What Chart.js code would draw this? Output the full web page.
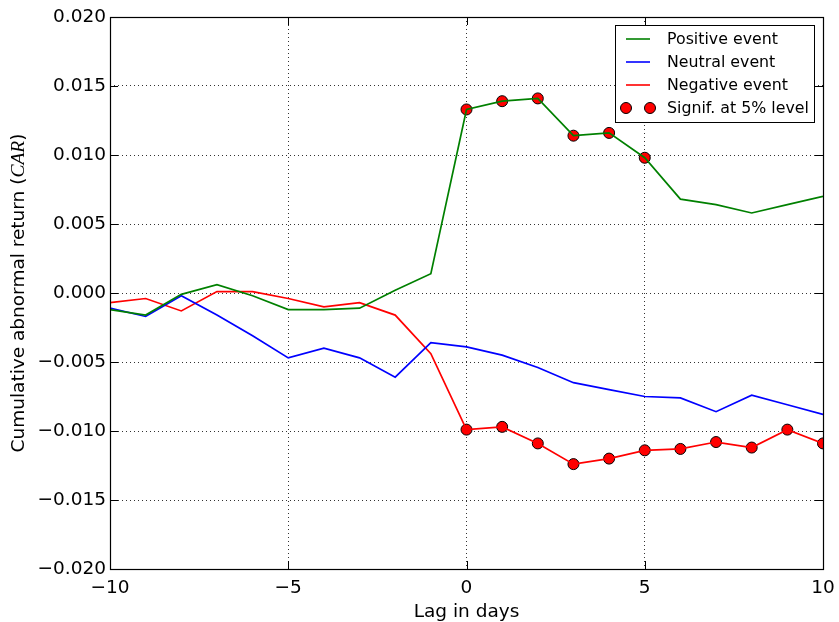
<!DOCTYPE html>
<html>
<head>
<meta charset="utf-8">
<title>Cumulative abnormal return</title>
<script src="https://cdn.jsdelivr.net/npm/chart.js@4.4.0/dist/chart.umd.min.js"></script>
<style>
  html, body { margin: 0; padding: 0; background: #fff; }
  #wrap { width: 839px; height: 622px; }
</style>
</head>
<body>
<div id="wrap"><canvas id="carChart" width="839" height="622"></canvas></div>
<script>
// Data
const lags = [-10, -9, -8, -7, -6, -5, -4, -3, -2, -1, 0, 1, 2, 3, 4, 5, 6, 7, 8, 9, 10];
const positive = [-0.0012, -0.0016, -0.0001, 0.0006, -0.0002, -0.0012, -0.0012, -0.0011, 0.0002, 0.0014,
  0.0133, 0.0139, 0.0141, 0.0114, 0.0116, 0.0098, 0.0068, 0.0064, 0.0058, 0.0064, 0.0070];
const neutral = [-0.0011, -0.0017, -0.0002, -0.0016, -0.0031, -0.0047, -0.0040, -0.0047, -0.0061, -0.0036,
  -0.0039, -0.0045, -0.0054, -0.0065, -0.0070, -0.0075, -0.0076, -0.0086, -0.0074, -0.0081, -0.0088];
const negative = [-0.0007, -0.0004, -0.0013, 0.0001, 0.0001, -0.0004, -0.0010, -0.0007, -0.0016, -0.0044,
  -0.0099, -0.0097, -0.0109, -0.0124, -0.0120, -0.0114, -0.0113, -0.0108, -0.0112, -0.0099, -0.0109];
const sigPositiveLags = [0, 1, 2, 3, 4, 5];
const sigNegativeLags = [0, 1, 2, 3, 4, 5, 6, 7, 8, 9, 10];
const xTicks = [-10, -5, 0, 5, 10];
const yTicks = [-0.02, -0.015, -0.01, -0.005, 0, 0.005, 0.01, 0.015, 0.02];

const FONT = 'DejaVu Sans';
const minus = s => s.replace('-', '\u2212');

function points(values) {
  return lags.map((l, i) => ({ x: l, y: values[i] }));
}
function sigPoints(lagList, values) {
  return lagList.map(l => ({ x: l, y: values[lags.indexOf(l)] }));
}

const legendItems = [
  { label: 'Positive event', color: '#008000' },
  { label: 'Neutral event', color: '#0000ff' },
  { label: 'Negative event', color: '#ff0000' },
  { label: 'Signif. at 5% level', marker: true }
];

// frame, inward ticks, axis titles and the boxed legend
const decorations = {
  id: 'decorations',
  afterDraw(chart) {
    const ctx = chart.ctx;
    const a = chart.chartArea;
    const xs = chart.scales.x, ys = chart.scales.y;
    ctx.save();
    ctx.strokeStyle = '#000';
    ctx.lineWidth = 1.2;
    ctx.strokeRect(a.left + 0.5, a.top + 0.5, a.right - a.left, a.bottom - a.top);

    // inward tick marks on all sides
    ctx.lineWidth = 1;
    ctx.beginPath();
    xTicks.forEach(v => {
      const px = Math.round(xs.getPixelForValue(v)) + 0.5;
      ctx.moveTo(px, a.bottom); ctx.lineTo(px, a.bottom - 8);
      ctx.moveTo(px, a.top); ctx.lineTo(px, a.top + 8);
    });
    yTicks.forEach(v => {
      const py = Math.round(ys.getPixelForValue(v)) + 0.5;
      ctx.moveTo(a.left, py); ctx.lineTo(a.left + 8, py);
      ctx.moveTo(a.right, py); ctx.lineTo(a.right - 8, py);
    });
    ctx.stroke();

    // x title
    ctx.fillStyle = '#000';
    ctx.font = '18.5px "' + FONT + '"';
    ctx.textAlign = 'center';
    ctx.textBaseline = 'alphabetic';
    ctx.fillText('Lag in days', (a.left + a.right) / 2, 617);

    // y title with italic CAR
    const p1 = 'Cumulative abnormal return (', p2 = 'CAR', p3 = ')';
    const sansFont = '18.5px "' + FONT + '"';
    const itFont = 'italic 19.5px "Liberation Serif"';
    ctx.font = sansFont; const w1 = ctx.measureText(p1).width; const w3 = ctx.measureText(p3).width;
    ctx.font = itFont; const w2 = ctx.measureText(p2).width;
    const total = w1 + w2 + w3;
    ctx.translate(24, (a.top + a.bottom) / 2);
    ctx.rotate(-Math.PI / 2);
    ctx.textAlign = 'left';
    let x0 = -total / 2;
    ctx.font = sansFont; ctx.fillText(p1, x0, 0); x0 += w1;
    ctx.font = itFont; ctx.fillText(p2, x0, 0); x0 += w2;
    ctx.font = sansFont; ctx.fillText(p3, x0, 0);
    ctx.setTransform(1, 0, 0, 1, 0, 0);

    // legend box
    const bx = 615.5, by = 25.5, bw = 199, bh = 97;
    ctx.fillStyle = '#fff';
    ctx.fillRect(bx, by, bw, bh);
    ctx.strokeStyle = '#000';
    ctx.lineWidth = 1;
    ctx.strokeRect(bx, by, bw, bh);
    ctx.font = '15.8px "' + FONT + '"';
    ctx.textBaseline = 'middle';
    legendItems.forEach((it, i) => {
      const cy = 39 + i * 23;
      if (it.marker) {
        [626, 650].forEach(mx => {
          ctx.beginPath();
          ctx.arc(mx, cy, 5.5, 0, Math.PI * 2);
          ctx.fillStyle = '#ff0000';
          ctx.fill();
          ctx.strokeStyle = '#000';
          ctx.lineWidth = 1;
          ctx.stroke();
        });
      } else {
        ctx.beginPath();
        ctx.moveTo(626, cy); ctx.lineTo(650, cy);
        ctx.strokeStyle = it.color;
        ctx.lineWidth = 1.6;
        ctx.stroke();
      }
      ctx.fillStyle = '#000';
      ctx.fillText(it.label, 667, cy + 1);
    });
    ctx.restore();
  }
};

const lineStyle = color => ({
  borderColor: color,
  backgroundColor: color,
  borderWidth: 1.7,
  pointRadius: 0,
  tension: 0,
  fill: false
});

const config = {
  type: 'line',
  data: {
    datasets: [
      Object.assign({ label: 'Positive event', data: points(positive) }, lineStyle('#008000')),
      Object.assign({ label: 'Neutral event', data: points(neutral) }, lineStyle('#0000ff')),
      Object.assign({ label: 'Negative event', data: points(negative) }, lineStyle('#ff0000')),
      {
        label: 'Signif. at 5% level',
        data: sigPoints(sigPositiveLags, positive).concat(sigPoints(sigNegativeLags, negative)),
        showLine: false,
        pointRadius: 5.5,
        pointBackgroundColor: '#ff0000',
        pointBorderColor: '#000',
        pointBorderWidth: 1
      }
    ]
  },
  options: {
    responsive: false,
    animation: false,
    layout: { padding: { left: 0, right: 16, top: 17, bottom: 0 } },
    plugins: { legend: { display: false }, tooltip: { enabled: false } },
    scales: {
      x: {
        type: 'linear',
        min: -10,
        max: 10,
        afterBuildTicks: s => { s.ticks = xTicks.map(v => ({ value: v })); },
        afterFit: s => { s.height = 53; s.paddingLeft = 0; s.paddingRight = 0; },
        ticks: {
          color: '#000',
          padding: 8,
          font: { family: FONT, size: 18.5 },
          callback: v => minus(String(v))
        },
        grid: { color: 'rgba(0,0,0,0.8)', lineWidth: 1, drawTicks: false },
        border: { display: false, dash: [1, 3] }
      },
      y: {
        min: -0.02,
        max: 0.02,
        afterBuildTicks: s => { s.ticks = yTicks.map(v => ({ value: v })); },
        afterFit: s => { s.width = 110; s.paddingTop = 0; s.paddingBottom = 0; },
        ticks: {
          color: '#000',
          padding: 4,
          font: { family: FONT, size: 18.5 },
          callback: v => minus(v.toFixed(3))
        },
        grid: { color: 'rgba(0,0,0,0.8)', lineWidth: 1, drawTicks: false },
        border: { display: false, dash: [1, 3] }
      }
    }
  },
  plugins: [decorations]
};

new Chart(document.getElementById('carChart').getContext('2d'), config);
</script>
</body>
</html>
